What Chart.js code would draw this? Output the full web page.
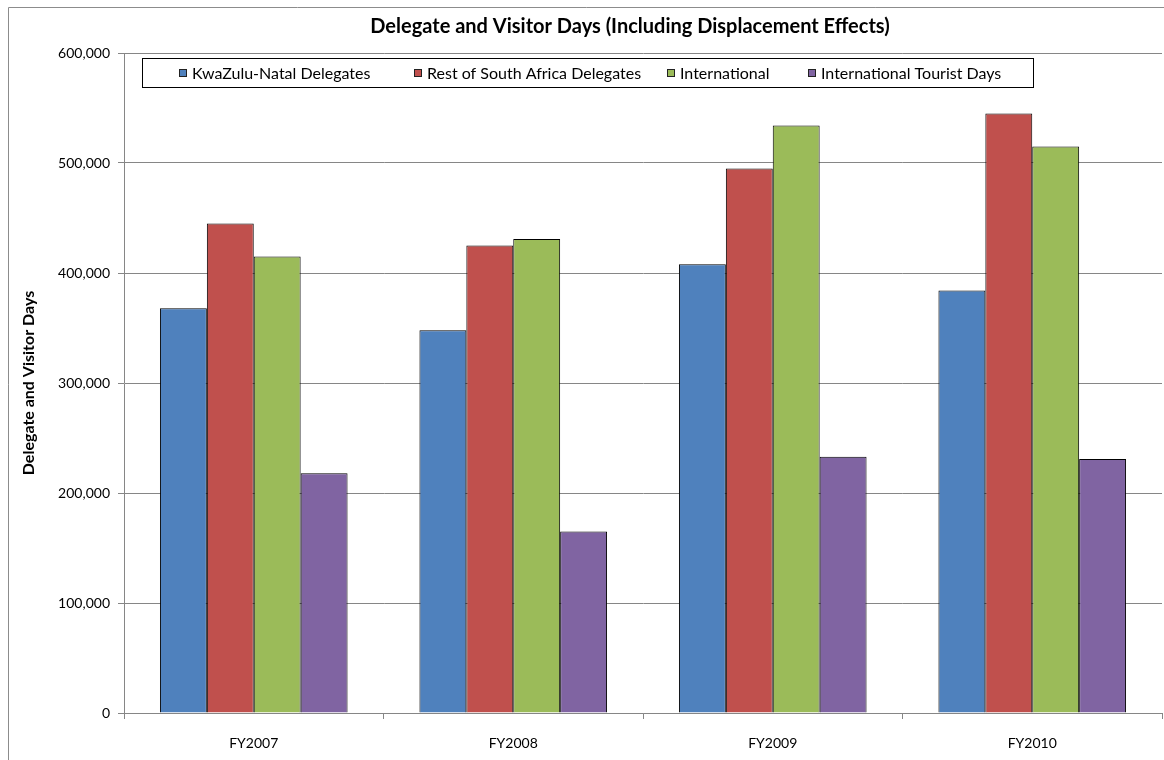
<!DOCTYPE html>
<html>
<head>
<meta charset="utf-8">
<script src="https://cdn.jsdelivr.net/npm/chart.js@4/dist/chart.umd.min.js"></script>
<style>
html,body{margin:0;padding:0;background:#fff;}
#wrap{width:1164px;height:760px;position:relative;}
</style>
</head>
<body>
<div id="wrap"><canvas id="c" width="1164" height="760"></canvas></div>
<script>
const categories = ["FY2007", "FY2008", "FY2009", "FY2010"];
const kznDelegates = [368000, 348000, 408000, 384000];
const restSADelegates = [445000, 425000, 495000, 545000];
const international = [415000, 431000, 534000, 515000];
const intlTouristDays = [218000, 165000, 233000, 231000];
const seriesNames = ["KwaZulu-Natal Delegates", "Rest of South Africa Delegates", "International", "International Tourist Days"];
const seriesColors = ["#4F81BD", "#C0504D", "#9BBB59", "#8064A2"];
const yTicks = [0, 100000, 200000, 300000, 400000, 500000, 600000];
const titleText = "Delegate and Visitor Days (Including Displacement Effects)";
const yTitle = "Delegate and Visitor Days";

const FONT = "Lato, 'Open Sans', sans-serif";
const legendX = [179, 414, 667, 808];

const decorPlugin = {
  id: 'decor',
  beforeDraw(chart) {
    const ctx = chart.ctx;
    ctx.save();
    ctx.fillStyle = '#fff';
    ctx.fillRect(0, 0, chart.width, chart.height);
    ctx.strokeStyle = '#8c8c8c';
    ctx.lineWidth = 1;
    ctx.beginPath();
    ctx.moveTo(8.5, 770);
    ctx.lineTo(8.5, 7.5);
    ctx.lineTo(1170, 7.5);
    ctx.stroke();
    ctx.restore();
  },
  afterDraw(chart) {
    const ctx = chart.ctx;
    ctx.save();
    // title
    ctx.fillStyle = '#000';
    ctx.font = "bold 20px " + FONT;
    ctx.textAlign = 'center';
    ctx.textBaseline = 'middle';
    ctx.fillText(titleText, 630, 27);
    // legend box
    ctx.fillStyle = '#fff';
    ctx.fillRect(142, 58, 892, 30);
    ctx.strokeStyle = '#000';
    ctx.lineWidth = 1;
    ctx.strokeRect(142.5, 58.5, 891, 29);
    ctx.font = "16px " + FONT;
    ctx.textAlign = 'left';
    chart.data.datasets.forEach((ds, i) => {
      const x = legendX[i];
      ctx.fillStyle = ds.backgroundColor;
      ctx.fillRect(x, 69, 8, 8);
      ctx.strokeStyle = '#222';
      ctx.strokeRect(x + 0.5, 69.5, 7, 7);
      ctx.fillStyle = '#000';
      ctx.fillText(ds.label, x + 13, 73.5);
    });
    ctx.restore();
  }
};

const datasets = [kznDelegates, restSADelegates, international, intlTouristDays].map((d, i) => ({
  label: seriesNames[i],
  data: d,
  backgroundColor: seriesColors[i],
  borderColor: '#000',
  borderWidth: 1,
  categoryPercentage: 0.723,
  barPercentage: 1.0
}));

new Chart(document.getElementById('c'), {
  type: 'bar',
  data: { labels: categories, datasets },
  plugins: [decorPlugin],
  options: {
    responsive: false,
    animation: false,
    devicePixelRatio: 1,
    layout: { padding: { left: 8, top: 53, right: 2, bottom: 0 } },
    plugins: {
      legend: { display: false },
      title: { display: false },
      tooltip: { enabled: false }
    },
    scales: {
      x: {
        afterFit(scale) { scale.height = 47; },
        grid: { display: true, drawOnChartArea: false, drawTicks: true, tickLength: 6, color: '#868686', offset: true },
        border: { display: true, color: '#868686' },
        ticks: { color: '#000', font: { family: FONT, size: 14 }, padding: 16 }
      },
      y: {
        min: 0, max: 600000,
        afterFit(scale) { scale.width = 116; },
        afterBuildTicks(scale) { scale.ticks = yTicks.map(v => ({ value: v })); },
        grid: { color: '#868686', tickLength: 6, drawTicks: true },
        border: { display: true, color: '#868686' },
        ticks: {
          color: '#000',
          font: { family: FONT, size: 14 },
          padding: 8,
          callback: v => Number(v).toLocaleString('en-US')
        },
        title: {
          display: true,
          text: yTitle,
          color: '#000',
          font: { family: FONT, size: 16, weight: 'bold' },
          padding: { top: 11, bottom: 4 }
        }
      }
    }
  }
});
</script>
</body>
</html>
